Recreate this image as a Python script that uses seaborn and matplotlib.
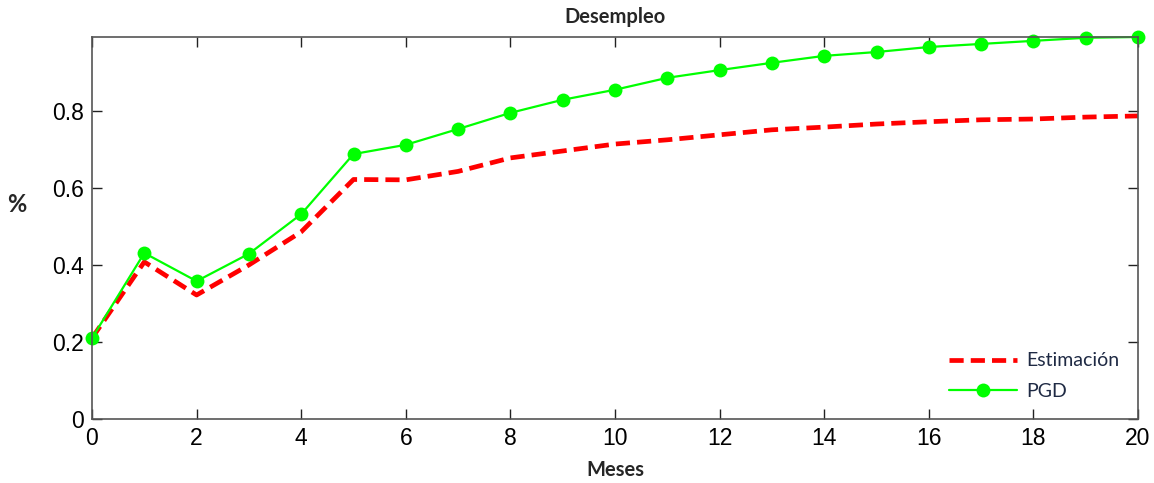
import numpy as np
import pandas as pd
import matplotlib
matplotlib.use("Agg")
import matplotlib.pyplot as plt
import seaborn as sns
from matplotlib.ticker import FuncFormatter

meses = list(range(21))
estimacion = [0.210, 0.408, 0.322, 0.400, 0.486, 0.622, 0.621, 0.643, 0.678, 0.696,
              0.714, 0.725, 0.738, 0.751, 0.758, 0.766, 0.772, 0.777, 0.779, 0.784, 0.787]
pgd = [0.210, 0.431, 0.358, 0.429, 0.532, 0.688, 0.712, 0.753, 0.795, 0.829,
       0.855, 0.886, 0.906, 0.925, 0.943, 0.953, 0.966, 0.974, 0.982, 0.990, 0.992]
xticks = list(range(0, 21, 2))
yticks = [0, 0.2, 0.4, 0.6, 0.8]

df_est = pd.DataFrame({"Meses": meses, "v": estimacion})
df_pgd = pd.DataFrame({"Meses": meses, "v": pgd})

sns.set_style("ticks")
plt.rcParams['font.family'] = ['Liberation Sans', 'DejaVu Sans']
lab_font = ["Lato", "DejaVu Sans"]

fig = plt.figure(figsize=(11.54, 4.83), dpi=100)
ax = fig.add_axes([92/1154, 64/483, (1138-92)/1154, (419-37)/483])

sns.lineplot(data=df_est, x="Meses", y="v", ax=ax, color="#ff0000", lw=3.4,
             label="Estimación")
ax.lines[-1].set_dashes([3.0, 1.5])
sns.lineplot(data=df_pgd, x="Meses", y="v", ax=ax, color="#00ff00", lw=1.6,
             marker="o", markersize=10, markeredgewidth=0, label="PGD")
ax.lines[-1].set_clip_on(False)

ax.set_xlim(0, 20)
ax.set_ylim(0, 0.992)
ax.set_xticks(xticks)
ax.set_yticks(yticks)
ax.yaxis.set_major_formatter(FuncFormatter(lambda v, p: "0" if v == 0 else f"{v:.1f}"))
ax.tick_params(direction="in", length=7, width=1, top=True, right=True,
               labelsize=16.5, color="#222222", labelcolor="black", pad=6)
for s in ax.spines.values():
    s.set_visible(True)
    s.set_color("#555555")
    s.set_linewidth(1.2)

ax.set_title("Desempleo", fontsize=14.5, fontweight="bold", family=lab_font, pad=10)
ax.set_xlabel("Meses", fontsize=14.5, fontweight="bold", family=lab_font, va="center")
ax.xaxis.set_label_coords(0.5, (419-470)/382)
ax.set_ylabel("%", fontsize=17, fontweight="bold", family=lab_font,
              rotation=0, va="center", ha="center")
ax.yaxis.set_label_coords((17-92)/1046, (419-204)/382)

leg = ax.legend(loc="lower right", frameon=False, handlelength=3.5, handletextpad=0.45,
                bbox_to_anchor=((1119-92)/1046, (419-400)/382), borderpad=0,
                borderaxespad=0, labelspacing=0.7,
                prop={"family": lab_font, "size": 14})
for t in leg.get_texts():
    t.set_color("#1f2a44")

fig.savefig("out.png", dpi=100, facecolor="white")
